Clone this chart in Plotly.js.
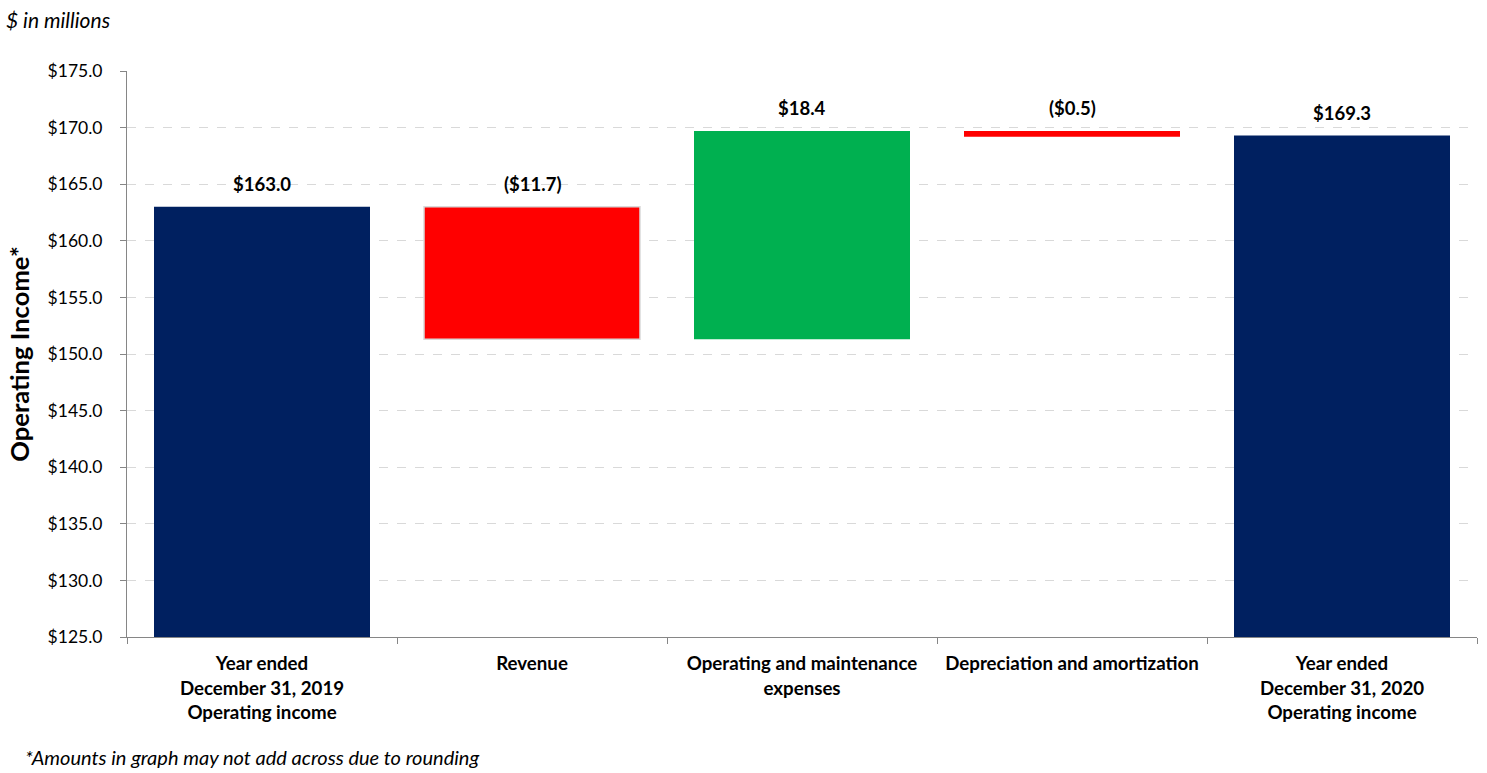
<!DOCTYPE html>
<html>
<head>
<meta charset="utf-8">
<script src="https://cdn.plot.ly/plotly-3.0.1.min.js"></script>
<style>
html,body{margin:0;padding:0;background:#fff;}
#chart{width:1487px;height:773px;}
</style>
</head>
<body>
<div id="chart"></div>
<script>
const categories = [
  "Year ended<br>December 31, 2019<br>Operating income",
  "Revenue",
  "Operating and maintenance<br>expenses",
  "Depreciation and amortization",
  "Year ended<br>December 31, 2020<br>Operating income"
];
const values = [163.0, -11.7, 18.4, -0.5, 169.3];
const measures = ["absolute", "relative", "relative", "relative", "total"];
const valueLabels = ["$163.0", "($11.7)", "$18.4", "($0.5)", "$169.3"];

const FONT = "Lato, 'Open Sans', 'Liberation Sans', sans-serif";
const COLORS = {total: "#002060", up: "#00B050", down: "#FF0000"};

// build waterfall bases
const bases = [], heights = [], tops = [], colors = [], lineColors = [], lineWidths = [];
let running = 0;
values.forEach((v, i) => {
  const m = measures[i];
  if (m === "absolute" || m === "total") {
    bases.push(0); heights.push(v); tops.push(v); running = v;
    colors.push(COLORS.total); lineColors.push(COLORS.total); lineWidths.push(0);
  } else {
    if (v < 0) {
      bases.push(running + v); heights.push(-v); tops.push(running);
      colors.push(COLORS.down);
    } else {
      bases.push(running); heights.push(v); tops.push(running + v);
      colors.push(COLORS.up);
    }
    running += v;
    lineColors.push(i === 1 ? "#D9D9D9" : colors[i]);
    lineWidths.push(i === 1 ? 1.5 : 0);
  }
});

const barTrace = {
  type: "bar",
  x: categories,
  y: heights,
  base: bases,
  marker: {color: colors, line: {color: lineColors, width: lineWidths}},
  hoverinfo: "skip",
  showlegend: false
};

const valueAnnotations = categories.map((c, i) => ({
  x: c, y: tops[i], xref: "x", yref: "y",
  text: "<b>" + valueLabels[i] + "</b>",
  showarrow: false, yanchor: "bottom", yshift: 10,
  font: {family: FONT, size: 18.5, color: "#000"}
}));

const layout = {
  width: 1487, height: 773,
  margin: {l: 127, r: 10, t: 71, b: 136},
  paper_bgcolor: "#fff", plot_bgcolor: "#fff",
  bargap: 0.2,
  font: {family: FONT, size: 17, color: "#000"},
  xaxis: {
    type: "category",
    range: [-0.5, 4.5],
    showline: true, linecolor: "#868686", linewidth: 1,
    ticks: "outside", tickson: "boundaries", ticklen: 6, tickcolor: "#868686",
    ticklabelstandoff: 10,
    showgrid: false,
    tickfont: {family: FONT, size: 18.7, color: "#000", weight: "bold"},
    fixedrange: true
  },
  yaxis: {
    range: [125, 175],
    dtick: 5, tick0: 125,
    tickprefix: "$", tickformat: ".1f",
    showline: true, linecolor: "#868686", linewidth: 1,
    ticks: "outside", ticklen: 6, tickcolor: "#868686",
    ticklabelstandoff: 14,
    showgrid: true, gridcolor: "#D9D9D9", griddash: "dash", gridwidth: 1,
    zeroline: false,
    tickfont: {family: FONT, size: 17.5, color: "#000"},
    title: {text: "Operating Income*", font: {family: FONT, size: 25.6, color: "#000", weight: "bold"}, standoff: 10},
    fixedrange: true
  },
  annotations: valueAnnotations.concat([
    {text: "<i>$ in millions</i>", xref: "paper", yref: "paper", x: -123/1350, y: 1 + 52/566,
     xanchor: "left", yanchor: "middle", showarrow: false, font: {family: FONT, size: 21, color: "#000"}},
    {text: "<i>*Amounts in graph may not add across due to rounding</i>", xref: "paper", yref: "paper",
     x: -104/1350, y: -120/566, xanchor: "left", yanchor: "middle", showarrow: false,
     font: {family: FONT, size: 20, color: "#000"}}
  ])
};

Plotly.newPlot("chart", [barTrace], layout, {displayModeBar: false, staticPlot: true});
</script>
</body>
</html>
